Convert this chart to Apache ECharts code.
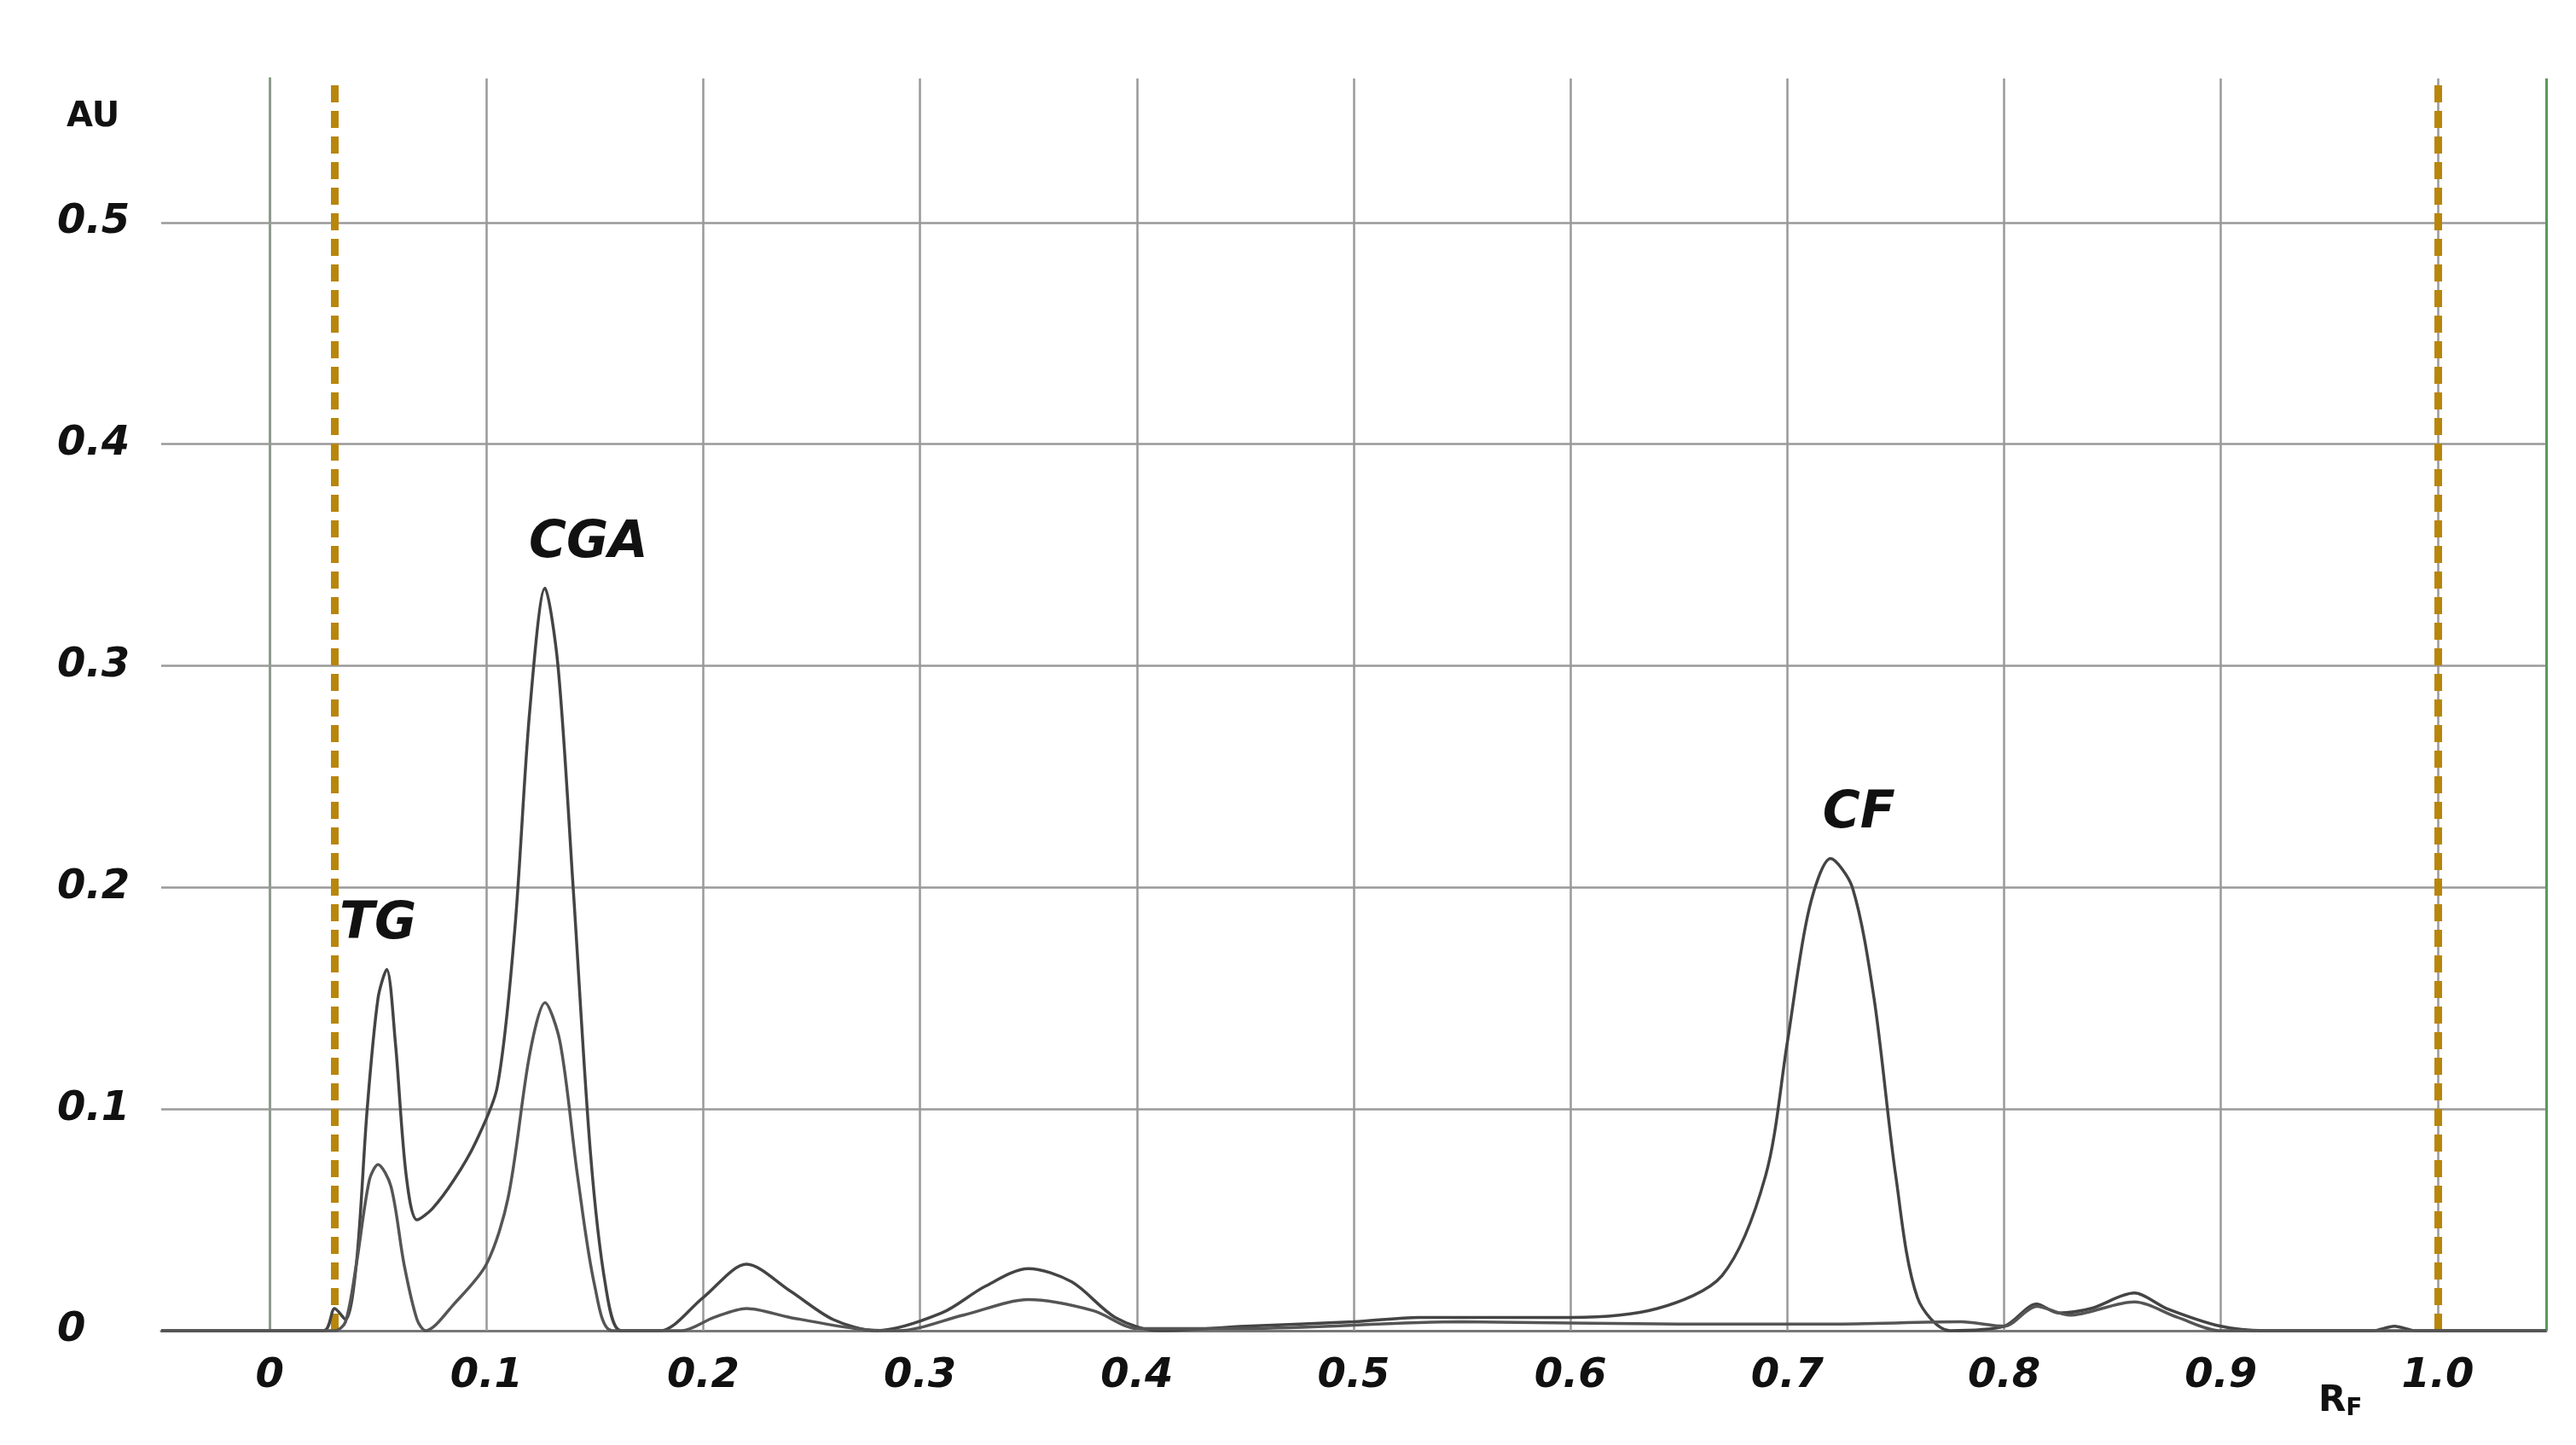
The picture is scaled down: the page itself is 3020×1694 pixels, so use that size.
<!DOCTYPE html>
<html><head><meta charset="utf-8">
<script src="https://cdn.jsdelivr.net/npm/echarts@6/dist/echarts.min.js"></script>
<style>html,body{margin:0;background:#fff}#c{width:3020px;height:1694px}</style>
</head><body><div id="c"></div>
<script>
const xTicks=[0,0.1,0.2,0.3,0.4,0.5,0.6,0.7,0.8,0.9,1.0];
const yTicks=[0,0.1,0.2,0.3,0.4,0.5];
const curveA=[[-0.05,0],[0.025,0],[0.03,0.01],[0.035,0.005],[0.04,0.03],[0.045,0.1],[0.05,0.15],[0.054,0.163],[0.058,0.13],[0.063,0.07],[0.068,0.05],[0.075,0.055],[0.085,0.068],[0.095,0.085],[0.105,0.11],[0.113,0.18],[0.12,0.28],[0.127,0.335],[0.133,0.3],[0.14,0.2],[0.148,0.08],[0.155,0.02],[0.162,0],[0.18,0],[0.2,0.015],[0.22,0.03],[0.24,0.018],[0.26,0.005],[0.28,0],[0.31,0.008],[0.33,0.02],[0.35,0.028],[0.37,0.022],[0.39,0.006],[0.41,0],[0.45,0.002],[0.5,0.004],[0.53,0.006],[0.6,0.006],[0.64,0.01],[0.67,0.025],[0.69,0.07],[0.7,0.13],[0.71,0.19],[0.72,0.213],[0.73,0.2],[0.74,0.15],[0.75,0.07],[0.76,0.015],[0.775,0],[0.8,0.002],[0.815,0.012],[0.825,0.008],[0.84,0.01],[0.86,0.017],[0.875,0.01],[0.9,0.002],[0.92,0],[0.97,0],[0.98,0.002],[0.99,0],[1.05,0]];
const curveB=[[-0.05,0],[0.03,0],[0.035,0.004],[0.04,0.03],[0.046,0.068],[0.05,0.075],[0.056,0.065],[0.062,0.03],[0.068,0.005],[0.072,0],[0.085,0.012],[0.1,0.03],[0.11,0.06],[0.12,0.125],[0.127,0.148],[0.134,0.13],[0.142,0.07],[0.15,0.02],[0.158,0],[0.19,0],[0.205,0.006],[0.22,0.01],[0.24,0.006],[0.27,0.001],[0.29,0],[0.32,0.007],[0.35,0.014],[0.38,0.009],[0.4,0.001],[0.45,0.001],[0.55,0.004],[0.65,0.003],[0.72,0.003],[0.78,0.004],[0.8,0.002],[0.815,0.011],[0.83,0.007],[0.86,0.013],[0.88,0.006],[0.9,0],[1.05,0]];
const peakLabels=[{name:'TG',x:0.05,y:0.163},{name:'CGA',x:0.147,y:0.335},{name:'CF',x:0.733,y:0.213}];
const markers=[0.028,1.002];

const chart=echarts.init(document.getElementById('c'));
const lab={fontFamily:'DejaVu Sans',fontStyle:'italic',fontWeight:'bold',fontSize:48,color:'#111'};
chart.setOption({
  animation:false,
  grid:{left:189,right:35,top:92,bottom:134},
  xAxis:{type:'value',min:-0.05,max:1.05,splitLine:{show:false},
    axisLine:{lineStyle:{color:'#777',width:3}},axisTick:{show:false},
    axisLabel:{customValues:xTicks,...lab,margin:30,formatter:v=>v===0?'0':(v===1?'1.0':String(+v.toFixed(1)))}},
  yAxis:{type:'value',min:0,max:0.565,
    axisLine:{show:true,lineStyle:{color:'#5a9a5a',width:3}},axisTick:{show:false},
    splitLine:{show:false},
    axisLabel:{customValues:yTicks,...lab,margin:122,align:'left',formatter:v=>v===0?'0':String(+v.toFixed(1))}},
  graphic:[
    {type:'text',left:78,top:118,style:{text:'AU',font:'bold 40px "DejaVu Sans"',fill:'#111'}},
    {type:'text',left:2718,top:1622,style:{text:'{a|R}{b|F}',rich:{a:{font:'bold 42px "DejaVu Sans"',fill:'#111'},b:{font:'bold 28px "DejaVu Sans"',fill:'#111',padding:[18,0,0,0]}}}}
  ],
  series:[
    {type:'line',data:[],markLine:{silent:true,symbol:'none',label:{show:false},
      lineStyle:{color:'#999',width:2.5,type:'solid'},data:xTicks.map(v=>({xAxis:v})).concat(yTicks.slice(1).map(v=>({yAxis:v})))}},
    {type:'line',data:[],markLine:{silent:true,symbol:'none',label:{show:false},
      lineStyle:{color:'#5a9a5a',width:3,type:'solid'},data:[{xAxis:1.05}]}},
    {type:'line',data:[],markLine:{silent:true,symbol:'none',label:{show:false},
      lineStyle:{color:'#b8860b',width:9,type:[20,10]},data:markers.map(v=>({xAxis:v}))}},
    {type:'line',data:curveA,smooth:0.3,showSymbol:false,lineStyle:{color:'#444',width:3.5},z:5,
      markPoint:{symbol:'circle',symbolSize:1,itemStyle:{color:'transparent'},
        label:{show:true,position:'top',distance:22,fontFamily:'DejaVu Sans',fontStyle:'italic',fontWeight:'bold',fontSize:60,color:'#111',formatter:p=>p.name},
        data:peakLabels.map(p=>({name:p.name,coord:[p.x,p.y]}))}},
    {type:'line',data:curveB,smooth:0.3,showSymbol:false,lineStyle:{color:'#555',width:3.5},z:5}
  ]
});
</script></body></html>
